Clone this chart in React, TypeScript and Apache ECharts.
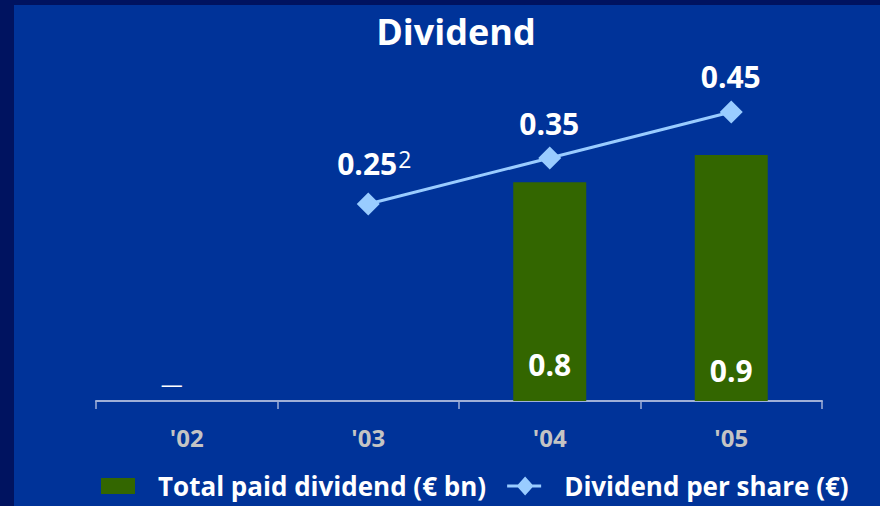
import React, { useEffect, useRef } from "react";
import * as echarts from "echarts";

const categories = ["'02", "'03", "'04", "'05"];
const totalPaid = [0, null, 0.8, 0.9];
const perShare = [null, 0.25, 0.35, 0.45];
const perShareNotes = ["", "2", "", ""];
const seriesNames = ["Total paid dividend (€ bn)", "Dividend per share (€)"];
const title = "Dividend";

const FONT = "'Open Sans', sans-serif";

const RECT_ICON =
  "path://M0,1.5 L34,1.5 L34,17.5 L0,17.5 Z M0,0 L0.01,0 L0,0.01 Z M34,19 L33.99,19 L34,18.99 Z";
const LINE_ICON =
  "path://M0,8 L34,8 L34,11 L0,11 Z M18,0 L26.5,9.5 L18,19 L9.5,9.5 Z";

export default function App() {
  const ref = useRef<HTMLDivElement>(null);
  useEffect(() => {
    const chart = echarts.init(ref.current!, null, { renderer: "svg" });
    const barLabelDist = [0, 0, 22, 16];
    const lineLabelOffset = [0, [6, 0], [0, -1], [0, -2]];
    chart.setOption({
      animation: false,
      backgroundColor: "#003399",
      title: {
        text: title,
        left: 451,
        top: 8,
        textAlign: "center",
        textStyle: { color: "#ffffff", fontFamily: FONT, fontWeight: "bold", fontSize: 36 },
      },
      graphic: [
        { type: "rect", shape: { x: 0, y: 0, width: 14, height: 506 }, style: { fill: "#001360" }, silent: true },
        { type: "rect", shape: { x: 0, y: 0, width: 880, height: 5 }, style: { fill: "#001360" }, silent: true },
      ],
      legend: {
        left: 96,
        top: 468,
        itemGap: 21,
        textStyle: { color: "#ffffff", fontFamily: FONT, fontWeight: "bold", fontSize: 26, padding: [0, 0, 0, 18] },
        data: [
          { name: seriesNames[0], icon: RECT_ICON, itemStyle: { color: "#336600" } },
          { name: seriesNames[1], icon: LINE_ICON, itemStyle: { color: "#99ccff" } },
        ],
        itemWidth: 34,
        itemHeight: 19,
      },
      grid: { left: 96, right: 58, top: 73, bottom: 105 },
      xAxis: {
        type: "category",
        data: categories,
        axisLine: { lineStyle: { color: "#9fb0d8", width: 2 } },
        axisTick: { show: true, length: 8, lineStyle: { color: "#9fb0d8", width: 1.5 } },
        axisLabel: { color: "#c4c4c4", fontFamily: FONT, fontWeight: "bold", fontSize: 24, margin: 24 },
      },
      yAxis: [
        { type: "value", min: 0, max: 1.2, show: false, splitLine: { show: false } },
        { type: "value", min: -0.1783, max: 0.5348, show: false, splitLine: { show: false } },
      ],
      series: [
        {
          name: seriesNames[0],
          type: "bar",
          barWidth: 73,
          itemStyle: { color: "#336600" },
          data: totalPaid.map((v, i) =>
            v === 0
              ? {
                  value: v,
                  itemStyle: { color: "transparent" },
                  label: {
                    show: true,
                    position: "top",
                    formatter: "—",
                    offset: [-15, -3],
                    color: "#ffffff",
                    fontFamily: FONT,
                    fontSize: 22,
                    distance: 4,
                  },
                }
              : {
                  value: v,
                  label: {
                    show: v != null,
                    position: "insideBottom",
                    distance: barLabelDist[i],
                    color: "#ffffff",
                    fontFamily: FONT,
                    fontWeight: "bold",
                    fontSize: 30,
                  },
                }
          ),
        },
        {
          name: seriesNames[1],
          type: "line",
          yAxisIndex: 1,
          symbol: "diamond",
          symbolSize: 23,
          lineStyle: { color: "#99ccff", width: 3 },
          itemStyle: { color: "#99ccff" },
          data: perShare.map((v, i) => ({
            value: v,
            label: {
              show: v != null,
              position: "top",
              distance: perShareNotes[i] ? 12 : 6,
              offset: lineLabelOffset[i],
              formatter: (p: any) => `{v|${p.value}}{s|${perShareNotes[i]}}`,
              rich: {
                v: { color: "#ffffff", fontFamily: FONT, fontWeight: "bold", fontSize: 30 },
                s: { color: "#ffffff", fontFamily: FONT, fontSize: 23, verticalAlign: "top", padding: [0, 0, 10, 1] },
              },
            },
          })),
        },
      ],
    });
    return () => chart.dispose();
  }, []);
  return (
    <div style={{ position: "fixed", left: 0, top: 0, width: 880, height: 506 }}>
      <div ref={ref} style={{ width: 880, height: 506 }} />
    </div>
  );
}
